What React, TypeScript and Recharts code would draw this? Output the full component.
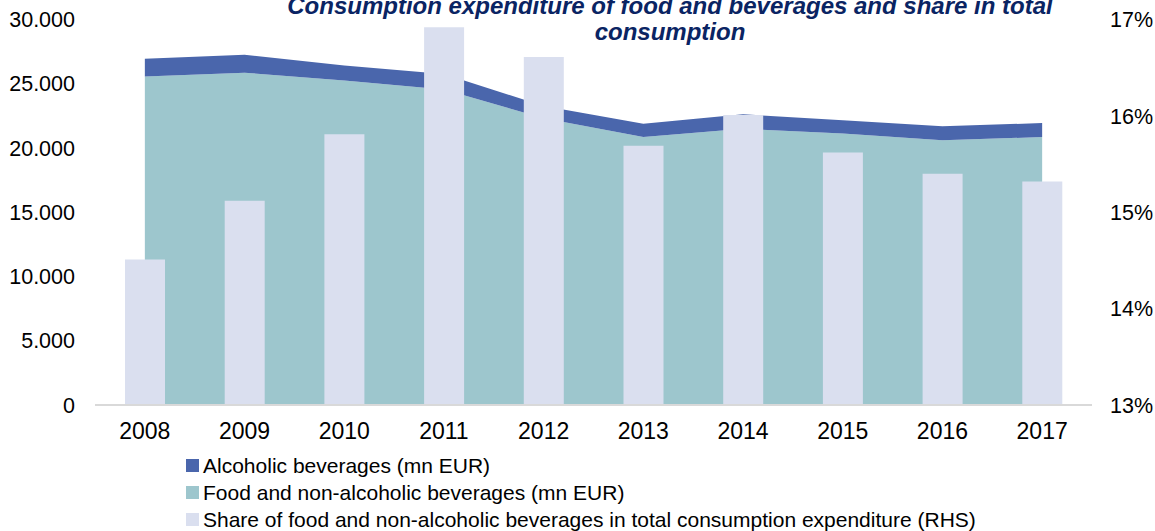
import React from "react";
import { ComposedChart, Area, Bar, XAxis, YAxis } from "recharts";

const years = ["2008", "2009", "2010", "2011", "2012", "2013", "2014", "2015", "2016", "2017"];
const foodValues = [25570, 25860, 25260, 24560, 22310, 20850, 21490, 21120, 20600, 20850];
const alcoholValues = [1380, 1400, 1170, 1200, 950, 1040, 1130, 1030, 1090, 1090];
const shareValues = [14.51, 15.12, 15.81, 16.92, 16.61, 15.69, 16.01, 15.62, 15.4, 15.32];
const leftTicks = [0, 5000, 10000, 15000, 20000, 25000, 30000];
const rightTicks = [13, 14, 15, 16, 17];

const data = years.map((y, i) => ({
  year: y,
  food: foodValues[i],
  alcohol: alcoholValues[i],
  share: shareValues[i],
}));

const C_ALC = "#4A66AC";
const C_FOOD = "#9DC6CD";
const C_SHARE = "#DADFEF";
const FONT = "'Liberation Sans', Arial, sans-serif";

const legendItems = [
  { color: C_ALC, label: "Alcoholic beverages (mn EUR)" },
  { color: C_FOOD, label: "Food and non-alcoholic beverages (mn EUR)" },
  { color: C_SHARE, label: "Share of food and non-alcoholic beverages in total consumption expenditure (RHS)" },
];

const fmtThousands = (v: number) => String(v).replace(/\B(?=(\d{3})+(?!\d))/g, ".");

export default function App() {
  return (
    <div style={{ position: "absolute", left: 0, top: 0, width: 1155, height: 531, background: "#fff" }}>
      <ComposedChart
        width={1155}
        height={531}
        data={data}
        margin={{ top: 19.5, right: 0, bottom: 96, left: 0 }}
      >
        <XAxis
          dataKey="year"
          axisLine={{ stroke: "#D9D9D9", strokeWidth: 2 }}
          tickLine={false}
          tick={{ fill: "#000", fontSize: 23, fontFamily: FONT }}
          tickMargin={12}
          height={30}
        />
        <YAxis
          yAxisId="left"
          domain={[0, 30000]}
          ticks={leftTicks}
          axisLine={false}
          tickLine={false}
          tickMargin={14}
          width={95}
          tickFormatter={fmtThousands}
          tick={{ fill: "#000", fontSize: 21.5, fontFamily: FONT }}
          interval={0}
        />
        <YAxis
          yAxisId="right"
          orientation="right"
          domain={[13, 17]}
          ticks={rightTicks}
          axisLine={false}
          tickLine={false}
          tickMargin={12}
          width={63}
          tickFormatter={(v: number) => `${v}%`}
          tick={{ fill: "#000", fontSize: 21.5, fontFamily: FONT }}
          interval={0}
        />
        <Area
          yAxisId="left"
          type="linear"
          dataKey="food"
          stackId="a"
          stroke="none"
          fill={C_FOOD}
          fillOpacity={1}
          isAnimationActive={false}
        />
        <Area
          yAxisId="left"
          type="linear"
          dataKey="alcohol"
          stackId="a"
          stroke="none"
          fill={C_ALC}
          fillOpacity={1}
          isAnimationActive={false}
        />
        <Bar yAxisId="right" dataKey="share" fill={C_SHARE} barSize={40} isAnimationActive={false} />
      </ComposedChart>
      <div
        style={{
          position: "absolute",
          left: 186,
          top: 452,
          fontFamily: FONT,
          fontSize: 21,
          color: "#000",
        }}
      >
        {legendItems.map((it) => (
          <div key={it.label} style={{ display: "flex", alignItems: "center", height: 27, whiteSpace: "nowrap" }}>
            <span style={{ display: "inline-block", width: 13, height: 13, background: it.color, marginRight: 4 }} />
            <span>{it.label}</span>
          </div>
        ))}
      </div>
      <div
        style={{
          position: "absolute",
          left: 220,
          width: 900,
          top: -7,
          textAlign: "center",
          fontFamily: FONT,
          fontWeight: "bold",
          fontStyle: "italic",
          fontSize: 24,
          lineHeight: "26px",
          color: "#0A2463",
        }}
      >
        Consumption expenditure of food and beverages and share in total
        <br />
        consumption
      </div>
    </div>
  );
}
